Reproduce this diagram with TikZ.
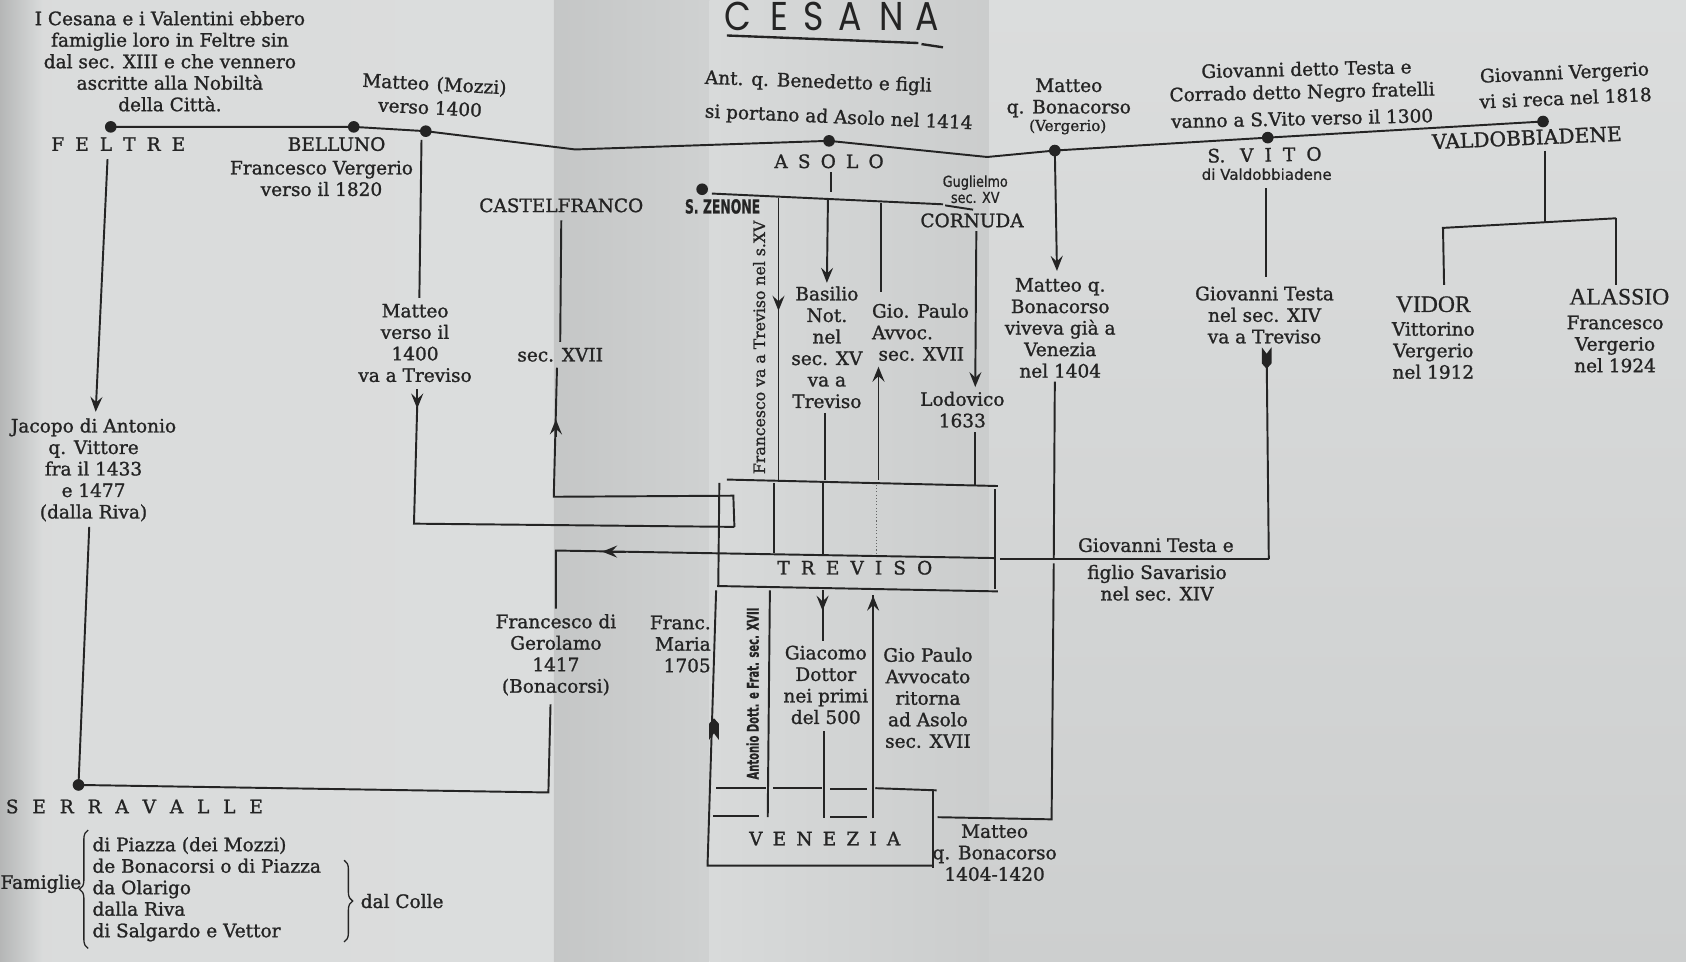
\documentclass[tikz,border=0pt]{standalone}
\usepackage{fontspec}
\setmainfont{DejaVu Serif}[FakeBold=1.2]
\newfontfamily\titlefont{Poppins}
\newfontfamily\sansfont{DejaVu Sans}[FakeBold=0.8]
\newfontfamily\capfont{Liberation Serif}[FakeBold=0.6]
\usetikzlibrary{arrows.meta,decorations.pathreplacing}
\definecolor{inkc}{HTML}{242424}
\definecolor{paper}{HTML}{D8DADA}
\newcommand\fs{\fontsize{8.6}{10}\selectfont}
\newcommand\ls[1]{\hskip#1em\relax}
\begin{document}
\begin{tikzpicture}[x=0.5pt,y=-0.5pt,
  line/.style={draw=inkc,line width=0.9pt},
  txt/.style={inner sep=0pt,outer sep=0pt,text=inkc,font=\fs,align=center},
  dot/.style={circle,fill=inkc,inner sep=0pt,minimum size=5.4pt},
  arr/.style={line,-{Stealth[length=7pt,width=5.6pt,inset=2.6pt]}},
  tail/.style={fill=inkc}
]
\useasboundingbox (0,0) rectangle (1568,894);
% paper background
\fill[paper] (0,0) rectangle (1568,894);
\shade[left color=black!20!paper!90!white, right color=paper!95!white] (0,0) rectangle (40,894);
\shade[left color=paper!96!white, right color=paper!92!white] (40,0) rectangle (515,894);
\shade[left color=black!9!paper, right color=black!4!paper] (515,0) rectangle (660,894);
\shade[left color=paper, right color=black!6!paper] (660,0) rectangle (920,894);
\shade[top color=paper!92!white, bottom color=black!5!paper] (920,0) rectangle (1568,894);

% title
\foreach \l/\xx in {C/686,E/725,S/757,A/791,N/829,A/862}
  \node[inner sep=0pt,anchor=base,text=inkc] (t\xx) at (\xx,28) {\scalebox{0.95}[1.1]{\titlefont\fontsize{17}{17}\selectfont\l}};
\draw[line,line width=1.1pt] (676,33) -- (854,40);
\draw[line,line width=1.1pt] (857,41) -- (877,44);

% coordinates of the places on the road
\coordinate (F) at (103,118);
\coordinate (B) at (329,118);
\coordinate (M) at (396,122);
\coordinate (A) at (771,131);
\coordinate (Q) at (981,140);
\coordinate (V) at (1179,128);
\coordinate (D) at (1435,113);
\coordinate (Z) at (653,176);
\coordinate (S) at (73,730);

% texts
\node[txt] (intro) at (158,57) {I Cesana e i Valentini ebbero\\famiglie loro in Feltre sin\\dal sec. XIII e che vennero\\ascritte alla Nobiltà\\della Città.};
\node[txt] (feltre) at (110,134) {F\ls{.6}E\ls{.6}L\ls{.6}T\ls{.6}R\ls{.6}E};
\node[txt] (belluno) at (313,134) {BELLUNO};
\node[txt] (fv) at (299,166) {Francesco Vergerio\\verso il 1820};
\node[txt,rotate=-3] (mozzi1) at (404,79) {Matteo\ls{.4}(Mozzi)};
\node[txt,rotate=-3] (mozzi2) at (400,100) {verso 1400};
\node[txt,rotate=-2] (ant) at (761,77) {Ant. q. Benedetto e figli};
\node[txt,rotate=-2.5] (sip) at (780,110) {si portano ad Asolo nel 1414};
\node[txt] (asolo) at (771,150) {A\ls{.55}S\ls{.55}O\ls{.55}L\ls{.55}O};
\node[txt] (mq1) at (994,91) {Matteo\\q. Bonacorso};
\node[txt,font=\fontsize{7}{8}\selectfont] (mq2) at (993,118) {(Vergerio)};
\node[txt,rotate=1.3] (gdt1) at (1215,64) {Giovanni detto Testa e};
\node[txt,rotate=1.3] (gdt2) at (1211,87) {Corrado detto Negro fratelli};
\node[txt,rotate=1.3] (gdt3) at (1211,110) {vanno a S.Vito verso il 1300};
\node[txt,rotate=2.5] (gv1) at (1455,69) {Giovanni Vergerio};
\node[txt,rotate=2.5] (gv2) at (1456,91) {vi si reca nel 1818};
\node[txt,rotate=1] (svito) at (1176,144) {S.\ls{.8}V\ls{.6}I\ls{.6}T\ls{.6}O};
\node[txt,font=\sansfont\fontsize{7}{8}\selectfont] (dival) at (1178,162) {di Valdobbiadene};
\node[txt,rotate=2.5,font=\fontsize{9.4}{10}\selectfont] (valdo) at (1420,128) {VALDOBBIADENE};
\node[txt] (castel) at (522,191) {CASTELFRANCO};
\node[txt] (zenone) at (672,192) {\scalebox{0.64}[1]{\sansfont\bfseries\fontsize{9}{9}\selectfont S. ZENONE}};
\node[txt,font=\sansfont\fontsize{7}{7.5}\selectfont] (gug) at (907,176) {\scalebox{0.85}[1]{Guglielmo}\\\scalebox{0.85}[1]{sec. XV}};
\node[txt] (cornuda) at (904,205) {CORNUDA};
\node[txt,rotate=90,font=\fontsize{7.3}{8}\selectfont] (franc) at (706,323) {Francesco va a Treviso nel s.XV};
\node[txt] (basilio) at (769,323) {Basilio\\Not.\\nel\\sec. XV\\va a\\Treviso};
\node[txt,align=left,anchor=west] (gp1) at (811,309) {Gio. Paulo\\Avvoc.\\\hskip3pt sec. XVII};
\node[txt] (lodo) at (895,381) {Lodovico\\1633};
\node[txt] (sec17) at (521,330) {sec. XVII};
\node[txt] (mtrev) at (386,319) {Matteo\\verso il\\1400\\va a Treviso};
\node[txt] (jacopo) at (87,437) {Jacopo di Antonio\\q. Vittore\\fra il 1433\\e 1477\\(dalla Riva)};
\node[txt] (mqv) at (986,305) {Matteo q.\\Bonacorso\\viveva già a\\Venezia\\nel 1404};
\node[txt] (gtt) at (1176,293) {Giovanni Testa\\nel sec. XIV\\va a Treviso};
\node[txt,font=\capfont\fontsize{11}{12}\selectfont] (vidor) at (1333,283) {VIDOR};
\node[txt] (vv) at (1333,326) {Vittorino\\Vergerio\\nel 1912};
\node[txt,font=\capfont\fontsize{11}{12}\selectfont] (alassio) at (1506,276) {ALASSIO};
\node[txt] (fv2) at (1502,320) {Francesco\\Vergerio\\nel 1924};
\node[txt] (gte) at (1075,507) {Giovanni Testa e};
\node[txt] (fsav) at (1076,542) {figlio Savarisio\\nel sec. XIV};
\node[txt] (treviso) at (795,528) {T\ls{.6}R\ls{.6}E\ls{.6}V\ls{.6}I\ls{.6}S\ls{.6}O};
\node[txt] (fdg) at (517,609) {Francesco di\\Gerolamo\\1417\\(Bonacorsi)};
\node[txt,align=right,anchor=east] (fm) at (661,599) {Franc.\\Maria\\1705};
\node[txt,rotate=90] (anto) at (700,645) {\scalebox{0.62}[1]{\sansfont\bfseries\fontsize{7.5}{8}\selectfont Antonio Dott. e Frat. sec. XVII}};
\node[txt] (giac) at (768,637) {Giacomo\\Dottor\\nei primi\\del 500};
\node[txt] (gp2) at (863,649) {Gio Paulo\\Avvocato\\ritorna\\ad Asolo\\sec. XVII};
\node[txt] (venezia) at (767,780) {V\ls{.55}E\ls{.55}N\ls{.55}E\ls{.55}Z\ls{.55}I\ls{.55}A};
\node[txt] (mqb) at (925,793) {Matteo\\q. Bonacorso\\1404-1420};
\node[txt] (serra) at (125,750) {S\ls{.75}E\ls{.75}R\ls{.75}R\ls{.75}A\ls{.75}V\ls{.75}A\ls{.75}L\ls{.75}L\ls{.75}E};
\node[txt] (famiglie) at (38,822) {Famiglie};
\node[txt,align=left,anchor=west] (fams) at (86,827) {di Piazza (dei Mozzi)\\de Bonacorsi o di Piazza\\da Olarigo\\dalla Riva\\di Salgardo e Vettor};
\node[txt] (colle) at (374,838) {dal Colle};

% braces
\draw[line,line width=0.6pt,decorate,decoration={brace,amplitude=4pt}] (82,882) -- (82,772);
\draw[line,line width=0.6pt,decorate,decoration={brace,amplitude=4pt}] (320,800) -- (320,876);

% main road
\draw[line] (F) -- (B) -- (M) -- (535,139) -- (A) -- (918,146) -- (Q) -- (V) -- (D);

% Feltre -> Serravalle
\draw[arr] (100,148) -- (89,383);
\draw[line] (83,490) -- (S) -- (510,737) -- (512,655);
% Francesco di Gerolamo / arrow line to Treviso
\draw[line] (517,566) -- (517,512) -- (925,519);
\draw[arr] (582,513) -- (560,513);
\draw[line] (930,520) -- (1180,520);

% Matteo (Mozzi) -> Treviso
\draw[line] (392,130) -- (390,277);
\draw[arr] (388,362) -- (388,380);
\draw[line] (388,378) -- (385,487) -- (683,490);
% Castelfranco
\draw[line] (522,205) -- (521,318);
\draw[line] (518,342) -- (515,462) -- (682,461) -- (683,490);
\draw[arr] (517,406) -- (517,390);

% Asolo - S. Zenone - Cornuda
\draw[line] (773,160) -- (773,179);
\draw[line] (662,180) -- (877,190);
\draw[line] (879,191) -- (905,195);
\draw[line] (724,184) -- (724,446);
\draw[arr] (724,270) -- (724,289);
\draw[arr] (770,185) -- (769,263);
\draw[line] (767,384) -- (767,446);
\draw[line] (819,189) -- (819,272);
\draw[line] (817,343) -- (817,446);
\draw[arr] (817,358) -- (817,341);
\draw[arr] (908,215) -- (907,360);
\draw[line] (907,402) -- (907,452);

% Treviso block
\draw[line] (676,446) -- (928,452);
\draw[line] (669,449) -- (668,545);
\draw[line] (720,449) -- (720,514);
\draw[line] (765,449) -- (765,515);
\draw[inkc!70,line width=0.5pt,densely dotted] (815,451) -- (815,516);
\draw[line] (925,455) -- (925,548);
\draw[line] (667,545) -- (928,550);

% below Treviso
\draw[line] (666,549) -- (658,805) -- (868,805);
\fill[tail,shift={(664,678)}] (-4.5,10) -- (0,4) -- (4.5,10) -- (4.5,-5) -- (0,-10) -- (-4.5,-5) -- cycle;
\draw[line] (716,549) -- (714,760);
\draw[line] (765,549) -- (765,596);
\draw[arr] (765,550) -- (765,568);
\draw[line] (766,680) -- (766,761);
\draw[line] (812,761) -- (812,553);
\draw[arr] (812,572) -- (812,554);

% Venezia block
\draw[line] (666,733) -- (712,733);
\draw[line] (719,733) -- (764,733);
\draw[line] (772,734) -- (806,734);
\draw[line] (814,733) -- (871,735);
\draw[line] (663,759) -- (706,759);
\draw[line] (772,760) -- (806,760);
\draw[line] (868,736) -- (868,807);

% Matteo q. Bonacorso (Vergerio) -> Venezia
\draw[arr] (Q) -- (983,252);
\draw[line] (981,355) -- (980,519);
\draw[line] (980,524) -- (978,762) -- (872,760);

% S. Vito -> Treviso
\draw[line] (1177,175) -- (1177,258);
\draw[line] (1178,330) -- (1180,520);
\fill[tail,shift={(1178,333)}] (-4.5,-10) -- (0,-4) -- (4.5,-10) -- (4.5,5) -- (0,10) -- (-4.5,5) -- cycle;

% Valdobbiadene
\draw[line] (1437,140) -- (1437,207);
\draw[line] (1341,212) -- (1503,203);
\draw[line] (1342,212) -- (1343,265);
\draw[line] (1503,203) -- (1503,265);

% dots
\node[dot] (dF) at (F) {};
\node[dot] (dB) at (B) {};
\node[dot] (dM) at (M) {};
\node[dot] (dA) at (A) {};
\node[dot] (dQ) at (Q) {};
\node[dot] (dV) at (V) {};
\node[dot] (dD) at (D) {};
\node[dot] (dZ) at (Z) {};
\node[dot] (dS) at (S) {};
\end{tikzpicture}
\end{document}
